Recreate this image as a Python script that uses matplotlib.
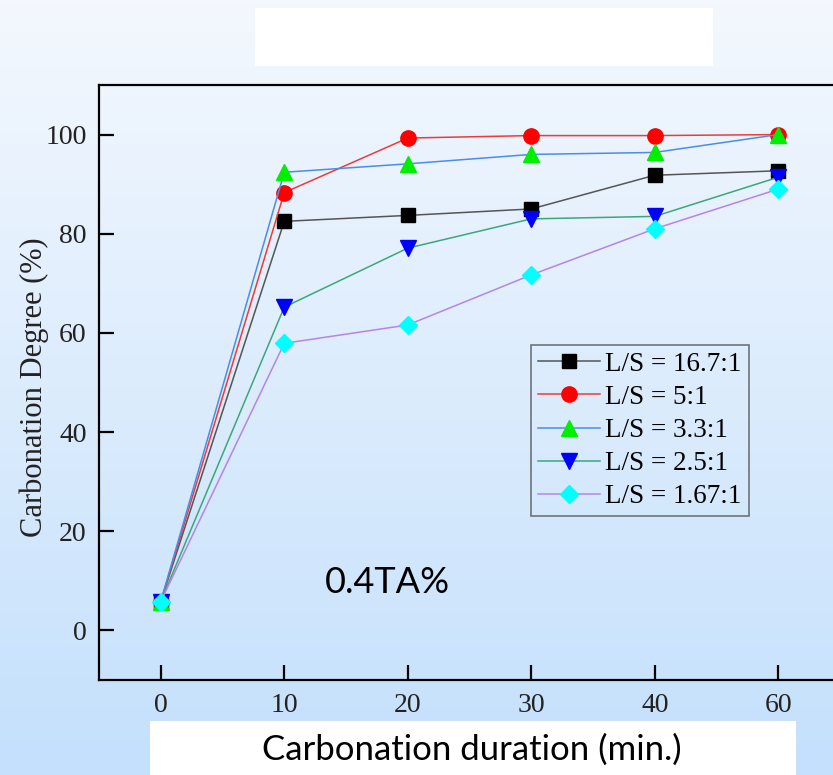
import numpy as np
import matplotlib
matplotlib.use("Agg")
import matplotlib.pyplot as plt
from matplotlib.patches import Rectangle

# carbonation duration (min.) - drawn as evenly spaced categories
durations = ["0", "10", "20", "30", "40", "60"]

ls_16_7 = [5.8, 82.5, 83.7, 85.0, 91.8, 92.7]
ls_5 = [5.8, 88.3, 99.3, 99.8, 99.8, 100.0]
ls_3_3 = [5.8, 92.4, 94.1, 96.0, 96.4, 100.0]
ls_2_5 = [5.8, 65.2, 77.1, 83.0, 83.5, 91.4]
ls_1_67 = [5.8, 57.9, 61.6, 71.7, 81.0, 89.0]

labels = ["L/S = 16.7:1", "L/S = 5:1", "L/S = 3.3:1", "L/S = 2.5:1", "L/S = 1.67:1"]

W, H = 833, 775
fig = plt.figure(figsize=(W / 100, H / 100), dpi=100)

# light blue vertical gradient for the whole slide
bg = fig.add_axes([0, 0, 1, 1], zorder=-10)
top = np.array([244, 248, 254]) / 255.0
bot = np.array([196, 224, 252]) / 255.0
t = np.linspace(0, 1, 256)[:, None]
grad = (top[None, :] * (1 - t) + bot[None, :] * t)[:, None, :]
bg.imshow(grad, aspect="auto", extent=[0, 1, 0, 1], origin="upper")
bg.set_xlim(0, 1)
bg.set_ylim(0, 1)
bg.axis("off")

# white boxes (blank one at top, one holding the x label)
bg.add_patch(Rectangle((255 / W, 1 - 66 / H), (713 - 255) / W, (66 - 8) / H,
                       facecolor="white", edgecolor="none"))
bg.add_patch(Rectangle((150 / W, 0), (796 - 150) / W, (775 - 721) / H,
                       facecolor="white", edgecolor="none"))

ax = fig.add_axes([99 / W, (H - 680) / H, (840 - 99) / W, (680 - 85) / H])
ax.patch.set_alpha(0)

x = np.arange(len(durations))
series = [ls_16_7, ls_5, ls_3_3, ls_2_5, ls_1_67]
markers = ["s", "o", "^", "v", "D"]
mcolors = ["black", "red", "#00ee00", "blue", "cyan"]
lcolors = ["#555555", "#f03a3a", "#4a8de8", "#3aa87a", "#b585e6"]
msizes = [10, 11, 11.5, 11.5, 9.5]

for ys, m, mc, lc, ms, lab in zip(series, markers, mcolors, lcolors, msizes, labels):
    ax.plot(x, ys, color=lc, lw=1.1, marker=m, markersize=ms,
            markerfacecolor=mc, markeredgecolor=mc, label=lab)

ax.set_xlim(-0.5, 5.5)
ax.set_ylim(-10, 110)
ax.set_xticks(x)
ax.set_xticklabels(durations)
ax.set_yticks([0, 20, 40, 60, 80, 100])

for s in ["top", "left", "bottom"]:
    ax.spines[s].set_linewidth(1.6)
    ax.spines[s].set_color("black")
ax.spines["right"].set_visible(False)

ax.tick_params(direction="in", length=11, width=1.6, labelsize=20, pad=9,
               colors="black")
ax.tick_params(axis="both", labelcolor="#222222")
for lbl in ax.get_xticklabels() + ax.get_yticklabels():
    lbl.set_family("Liberation Serif")

fig.text(34 / W, 1 - 387 / H, "Carbonation Degree (%)", rotation=90,
         ha="center", va="center", fontsize=22, family="Liberation Serif",
         color="#222222")

fig.text(472 / W, 1 - 750 / H, "Carbonation duration (min.)", ha="center",
         va="center", fontsize=25, family="Lato", color="black")

ax.text(1.33, 9.6, "0.4TA%", ha="left", va="center", fontsize=26,
        family="Lato", color="black")

leg = ax.legend(loc="upper left", bbox_to_anchor=((531 - 99) / 741, 1 - (345 - 85) / 595),
                prop={"family": "Liberation Serif", "size": 19.5},
                frameon=True, fancybox=False, handlelength=2.3,
                handletextpad=0.2, labelspacing=0.3, borderpad=0.25,
                borderaxespad=0)
leg.get_frame().set_facecolor("none")
leg.get_frame().set_edgecolor("#555555")
leg.get_frame().set_linewidth(1.2)

fig.savefig("out.png", dpi=100)
